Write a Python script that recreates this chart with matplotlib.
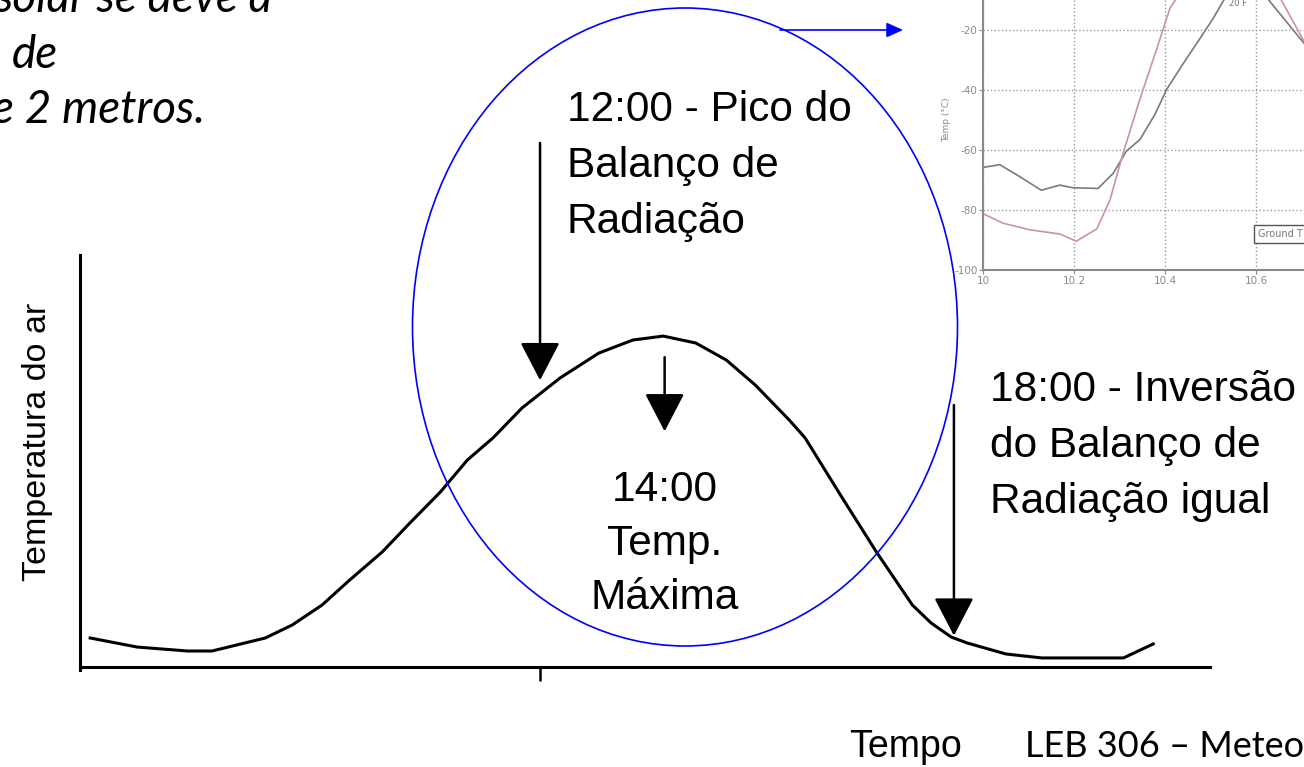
import numpy as np
import matplotlib.pyplot as plt
from matplotlib.patches import Ellipse

plt.rcParams['axes.unicode_minus'] = False

# curva diaria da temperatura do ar (horas, unidades arbitrarias)
horas = [5.50, 6.18, 6.91, 7.26, 8.03, 8.42, 8.85, 9.25, 9.72, 10.12, 10.56, 10.95,
         11.32, 11.74, 12.29, 12.85, 13.34, 13.78, 14.25, 14.69, 15.11, 15.60, 15.83,
         16.34, 16.86, 17.38, 17.65, 17.94, 18.17, 18.73, 19.25, 20.43, 20.86]
temp_ar = [11.76, 11.21, 10.97, 10.97, 11.76, 12.55, 13.76, 15.28, 16.98, 18.74, 20.62,
           22.56, 23.90, 25.72, 27.54, 29.05, 29.84, 30.08, 29.66, 28.63, 27.11, 24.99,
           23.90, 20.44, 16.98, 13.76, 12.67, 11.82, 11.46, 10.79, 10.55, 10.55, 11.40]

# grafico pequeno (canto superior direito)
inset_x_gray = [10.0, 10.037, 10.081, 10.128, 10.169, 10.198, 10.253, 10.286, 10.315,
                10.345, 10.378, 10.404, 10.44, 10.477, 10.506, 10.532, 10.57, 10.624, 10.706, 10.75]
inset_y_gray = [-65.8, -64.9, -68.9, -73.4, -71.7, -72.6, -72.8, -67.8, -60.4,
                -56.5, -48.1, -39.7, -31.2, -22.8, -16.1, -9.3, -4.0, -9.3, -24.5, -32.0]
inset_x_pink = [10.0, 10.044, 10.103, 10.169, 10.205, 10.25, 10.279, 10.308, 10.345,
                10.382, 10.411, 10.426, 10.5, 10.653, 10.706, 10.75]
inset_y_pink = [-81.2, -84.4, -86.6, -88.0, -90.4, -86.3, -76.7, -61.0, -43.0,
                -26.2, -12.7, -9.3, -2.0, -9.3, -23.9, -31.0]
inset_xticks = [10.0, 10.2, 10.4, 10.6, 10.8]
inset_xlabels = ['10', '10.2', '10.4', '10.6', '10.8']
inset_yticks = [-100, -80, -60, -40, -20]

W, H = 1304, 767
fig = plt.figure(figsize=(W / 100, H / 100), dpi=100)

# eixo principal
ax = fig.add_axes([80 / W, (H - 667) / H, 1130 / W, 412 / H])
ax.plot(horas, temp_ar, color='k', lw=2.2, solid_joinstyle='miter')
ax.set_xlim(5.353, 21.68)
ax.set_ylim(10, 35)
for s in ['top', 'right']:
    ax.spines[s].set_visible(False)
ax.spines['left'].set_linewidth(2.2)
ax.spines['bottom'].set_linewidth(2.2)
ax.spines['left'].set_bounds(9.8, 35)
ax.set_xticks([12])
ax.set_xticklabels([''])
ax.tick_params(axis='x', length=10, width=1.8, direction='out', pad=0)
ax.set_yticks([])
ax.patch.set_visible(False)

# setas
seta = dict(arrowstyle='-|>,head_length=24,head_width=12.5', mutation_scale=1,
            lw=1.8, color='k', shrinkA=0, shrinkB=0)
ax.annotate('', xy=(12, 27.4), xytext=(12, 41.8), arrowprops=seta, annotation_clip=False)
ax.annotate('', xy=(13.8, 24.3), xytext=(13.8, 28.8), arrowprops=seta, annotation_clip=False)
ax.annotate('', xy=(17.98, 11.9), xytext=(17.98, 25.9), arrowprops=seta, annotation_clip=False)

# grafico pequeno
axi = fig.add_axes([983 / W, (H - 270) / H, 455 / W, 300 / H])
axi.plot(inset_x_gray, inset_y_gray, color='#7a7a7a', lw=1.2)
axi.plot(inset_x_pink, inset_y_pink, color='#c9959b', lw=1.2)
axi.set_xlim(10, 11)
axi.set_ylim(-100, 0)
axi.set_xticks(inset_xticks)
axi.set_xticklabels(inset_xlabels)
axi.set_yticks(inset_yticks)
axi.grid(True, ls=':', color='#9a9a9a', lw=1)
axi.tick_params(labelsize=7.5, colors='#8a8a8a', labelcolor='#8a8a8a', length=3, pad=1)
for s in axi.spines.values():
    s.set_color('#8a8a8a')
    s.set_linewidth(1.5)
axi.set_ylabel('Temp (°C)', fontsize=6.5, color='#8a8a8a', labelpad=2)
axi.text(10.56, -11, '20 F', fontsize=6, color='#777777', ha='center', va='center')
axi.text(10.605, -88, 'Ground T', fontsize=7, color='#777777', ha='left', va='center',
         bbox=dict(boxstyle='square,pad=0.4', fc='white', ec='#555555', lw=1))

# camada de anotacoes em pixels
ov = fig.add_axes([0, 0, 1, 1])
ov.set_xlim(0, W)
ov.set_ylim(H, 0)
ov.axis('off')
ov.patch.set_visible(False)

ov.add_patch(Ellipse((685, 327), 545, 638, fill=False, ec='#0000ff', lw=1.2))
ov.annotate('', xy=(903, 30), xytext=(780, 30),
            arrowprops=dict(arrowstyle='-|>,head_length=10,head_width=4.5', mutation_scale=1,
                            lw=1.2, color='#0000ff', shrinkA=0, shrinkB=0))

arial = 'Liberation Sans'
ov.text(567, 166, '12:00 - Pico do\nBalanço de\nRadiação', fontsize=30.5, family=arial,
        ha='left', va='center', linespacing=1.52)
ov.text(665, 544, '14:00\nTemp.\nMáxima', fontsize=30.5, family=arial,
        ha='center', va='center', linespacing=1.45, multialignment='center')
ov.text(990, 446, '18:00 - Inversão\ndo Balanço de\nRadiação igual', fontsize=30.5, family=arial,
        ha='left', va='center', linespacing=1.52)
ov.text(38, 442, 'Temperatura do ar', fontsize=24.5, family=arial, rotation=90,
        ha='center', va='center')
ov.text(906, 757, 'Tempo', fontsize=27, family=arial, ha='center', va='baseline')
ov.text(1025, 757, 'LEB 306 – Meteorologia', fontsize=26, family='Lato', ha='left', va='baseline')

# texto cortado no canto superior esquerdo
ov.text(272, 12, 'solar se deve a', fontsize=33, family='Lato', style='italic',
        ha='right', va='baseline')
ov.text(58, 68, 'de', fontsize=33, family='Lato', style='italic', ha='right', va='baseline')
ov.text(205, 123, 'e 2 metros.', fontsize=33, family='Lato', style='italic',
        ha='right', va='baseline')

fig.savefig('out.png', dpi=100)
